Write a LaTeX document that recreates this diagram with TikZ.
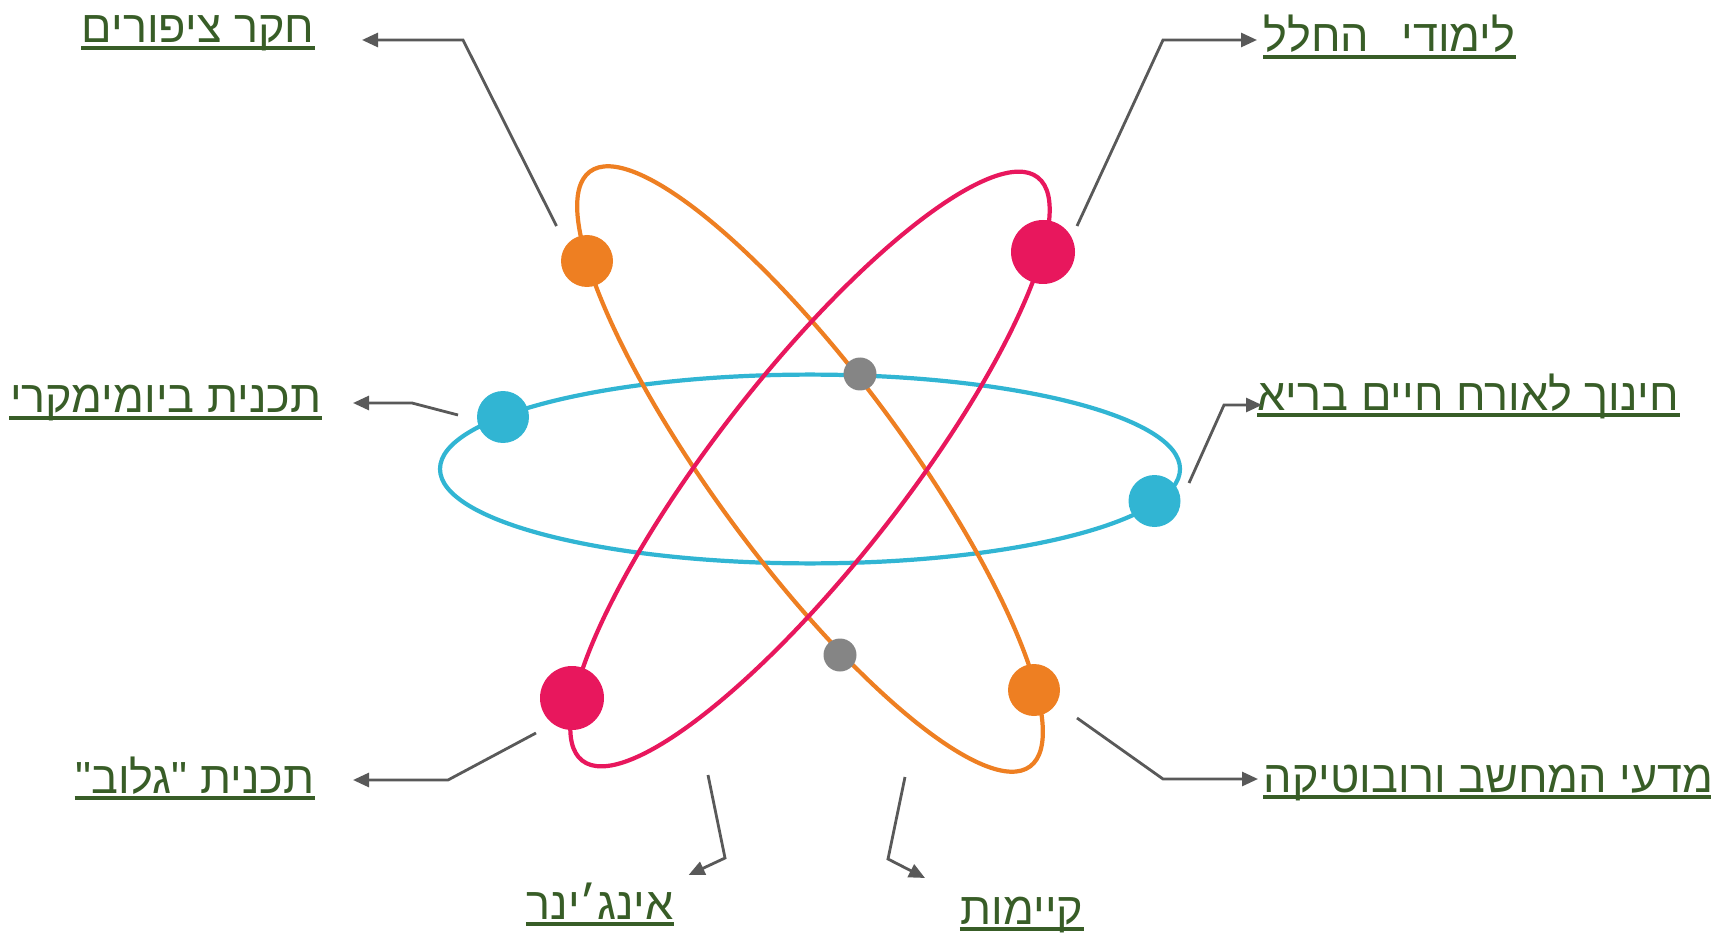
\documentclass[tikz,border=0pt]{standalone}
\usepackage{fontspec}
\usetikzlibrary{calc,arrows.meta,positioning}
\TeXXeTstate=1
\newfontfamily\hebfont[Script=Hebrew]{Liberation Sans}
\definecolor{orbOrange}{HTML}{EE7F22}
\definecolor{orbPink}{HTML}{E8175D}
\definecolor{orbCyan}{HTML}{31B5D3}
\definecolor{orbGray}{HTML}{858585}
\definecolor{lblGreen}{HTML}{385D27}
\definecolor{connGray}{HTML}{595959}

\begin{document}
\begin{tikzpicture}[x=0.1mm, y=0.1mm,
  orbit/.style={line width=1.2pt},
  dot/.style={circle, inner sep=0pt, minimum size=#1},
  lbl/.style={inner sep=0pt, text=lblGreen, font=\hebfont\fontsize{12.8}{15}\selectfont},
  conn/.style={draw=connGray, line width=.8pt, -{Triangle[length=1.6mm,width=1.4mm]}},
  uline/.style={draw=lblGreen, line width=.9pt}]
 \useasboundingbox (0,0) rectangle (1711,934);
 \coordinate (c) at (810,465);

 % the three orbits
 \draw[orbit, orbCyan] (c) ellipse [x radius=37mm, y radius=9.44mm];
 \draw[orbit, orbOrange, rotate around={-53.5:(c)}] (c) ellipse [x radius=37mm, y radius=9.44mm];
 \draw[orbit, orbPink, rotate around={52:(c)}] (c) ellipse [x radius=37mm, y radius=9.44mm];

 % electrons
 \node[dot=5.2mm, fill=orbOrange] (o1) at (587,673) {};
 \node[dot=5.2mm, fill=orbOrange] (o2) at (1034,244) {};
 \node[dot=6.4mm, fill=orbPink] (p1) at (1043,682) {};
 \node[dot=6.4mm, fill=orbPink] (p2) at (572,236) {};
 \node[dot=5.2mm, fill=orbCyan] (c1) at (503,517) {};
 \node[dot=5.2mm, fill=orbCyan] (c2) at (1154.5,433) {};
 \node[dot=3.3mm, fill=orbGray] (g1) at (860,560) {};
 \node[dot=3.3mm, fill=orbGray] (g2) at (840,279) {};

 % labels
 \node[lbl, anchor=base east] (birds) at (315,891) {\beginR חקר ציפורים\endR};
 \node[lbl, anchor=base west] (space) at (1263,882) {\beginR לימודי\hspace{0.72em}החלל\endR};
 \node[lbl, anchor=base east] (biomim) at (322,521) {\beginR תכנית ביומימקרי\endR};
 \node[lbl, anchor=base west] (health) at (1257,524) {\beginR חינוך לאורח חיים בריא\endR};
 \node[lbl, anchor=base east] (globe) at (315,141) {\beginR תכנית "גלוב"\endR};
 \node[lbl, anchor=base west] (robot) at (1263,142) {\beginR מדעי המחשב ורובוטיקה\endR};
 \node[lbl, anchor=base] (eng) at (600,15) {\beginR אינג׳ינר\endR};
 \node[lbl, anchor=base] (sust) at (1022,10) {\beginR קיימות\endR};

 \foreach \n in {birds,space,biomim,health,globe,robot,eng,sust}
  \draw[uline] ([yshift=-0.5mm]\n.base west) -- ([yshift=-0.5mm]\n.base east);

 % connectors
 \coordinate (s1) at (556.5,708); \coordinate (k1) at (463,894);
 \coordinate (s2) at (1077,708); \coordinate (k2) at (1163,894);
 \coordinate (s3) at (458,519); \coordinate (k3) at (412,531);
 \coordinate (s4) at (1189,451); \coordinate (k4) at (1224,529);
 \coordinate (s5) at (536,201); \coordinate (k5) at (448,154);
 \coordinate (s6) at (1077,216); \coordinate (k6) at (1163,155);
 \coordinate (s7) at (708,159); \coordinate (k7) at (725,76);
 \coordinate (s8) at (905,157); \coordinate (k8) at (888,75);

 \draw[conn, shorten >=4.7mm] (s1) -- (k1) -- (k1 -| birds.east);
 \draw[conn, shorten >=0.6mm] (s2) -- (k2) -- (k2 -| space.west);
 \draw[conn, shorten >=3.1mm] (s3) -- (k3) -- (k3 -| biomim.east);
 \draw[conn, shorten >=-0.5mm] (s4) -- (k4) -- (k4 -| health.west);
 \draw[conn, shorten >=3.8mm] (s5) -- (k5) -- (k5 -| globe.east);
 \draw[conn, shorten >=0.5mm] (s6) -- (k6) -- (k6 -| robot.west);
 \draw[conn] (s7) -- (k7) -- ($(k7)!4.02mm!(eng.north east)$);
 \draw[conn] (s8) -- (k8) -- ($(k8)!4.16mm!(sust.north west)$);
\end{tikzpicture}
\end{document}
